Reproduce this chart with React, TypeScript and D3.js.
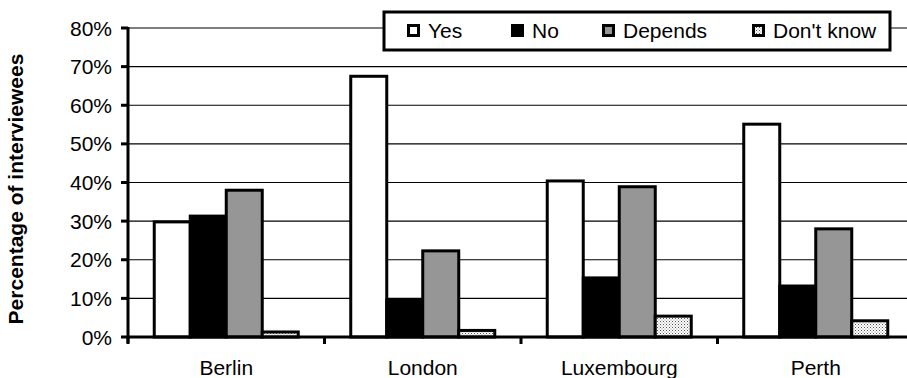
import * as d3 from "d3";
import { useEffect, useRef } from "react";

const cities = ["Berlin", "London", "Luxembourg", "Perth"];
const seriesNames = ["Yes", "No", "Depends", "Don't know"];
const yes = [29.8, 67.5, 40.4, 55.1];
const no = [31.3, 9.5, 15.3, 13.2];
const depends = [38, 22.3, 38.9, 28];
const dontKnow = [1.3, 1.7, 5.4, 4.2];
const yTicks = [0, 10, 20, 30, 40, 50, 60, 70, 80];

const fills = ["#ffffff", "#000000", "#969696", "url(#dk)"];
const FONT = "'Liberation Sans', Arial, sans-serif";

function App() {
  const ref = useRef<SVGSVGElement | null>(null);

  useEffect(() => {
    const svg = d3.select(ref.current);
    svg.selectAll("*").remove();

    const W = 907, H = 378;
    const left = 128, top = 28, bottom = 337;
    const right = left + 4 * 196.5;

    // pattern for "Don't know"
    const pat = svg.append("defs").append("pattern")
      .attr("id", "dk").attr("patternUnits", "userSpaceOnUse")
      .attr("width", 3).attr("height", 3);
    pat.append("rect").attr("width", 3).attr("height", 3).attr("fill", "#ffffff");
    pat.append("rect").attr("width", 1).attr("height", 1).attr("fill", "#555");
    pat.append("rect").attr("x", 1.5).attr("y", 1.5).attr("width", 1).attr("height", 1).attr("fill", "#888");

    const y = d3.scaleLinear().domain([0, 80]).range([bottom, top]);
    const x0 = d3.scaleBand<string>().domain(cities).range([left, right]).padding(0);
    const x1 = d3.scaleBand<string>().domain(seriesNames)
      .range([0, x0.bandwidth()]).paddingInner(0).paddingOuter(0.729);

    // gridlines
    svg.append("g").selectAll("line").data(yTicks.slice(1)).join("line")
      .attr("x1", left).attr("x2", W)
      .attr("y1", d => y(d)).attr("y2", d => y(d))
      .attr("stroke", "#000").attr("stroke-width", 1.2);

    // bars
    const values = [yes, no, depends, dontKnow];
    const rows = cities.flatMap((c, i) => seriesNames.map((s, j) => ({ c, s, v: values[j][i], f: fills[j] })));
    svg.append("g").selectAll("rect").data(rows).join("rect")
      .attr("x", d => (x0(d.c) as number) + (x1(d.s) as number))
      .attr("y", d => y(d.v))
      .attr("width", x1.bandwidth())
      .attr("height", d => bottom - y(d.v))
      .attr("fill", d => d.f)
      .attr("stroke", "#000").attr("stroke-width", 3);

    // y axis
    const ya = svg.append("g");
    ya.append("line").attr("x1", left).attr("x2", left).attr("y1", top - 1).attr("y2", bottom + 6)
      .attr("stroke", "#000").attr("stroke-width", 3);
    ya.selectAll("line.t").data(yTicks).join("line").attr("class", "t")
      .attr("x1", left - 7).attr("x2", left)
      .attr("y1", d => y(d)).attr("y2", d => y(d))
      .attr("stroke", "#000").attr("stroke-width", 3);
    ya.selectAll("text").data(yTicks).join("text")
      .attr("x", 112).attr("y", d => y(d)).attr("dy", "0.36em")
      .attr("text-anchor", "end").attr("font-family", FONT).attr("font-size", 21)
      .text(d => d + "%");

    // x axis
    const xa = svg.append("g");
    xa.append("line").attr("x1", left).attr("x2", W).attr("y1", bottom).attr("y2", bottom)
      .attr("stroke", "#000").attr("stroke-width", 3);
    xa.selectAll("line.t").data(cities).join("line").attr("class", "t")
      .attr("x1", d => x0(d) as number).attr("x2", d => x0(d) as number)
      .attr("y1", bottom).attr("y2", bottom + 7)
      .attr("stroke", "#000").attr("stroke-width", 3);
    xa.selectAll("text").data(cities).join("text")
      .attr("x", d => (x0(d) as number) + x0.bandwidth() / 2).attr("y", 375)
      .attr("text-anchor", "middle").attr("font-family", FONT).attr("font-size", 21)
      .text(d => d);

    // y label
    svg.append("text")
      .attr("transform", "translate(23,189) rotate(-90)")
      .attr("text-anchor", "middle").attr("font-family", FONT)
      .attr("font-size", 21).attr("font-weight", "bold")
      .text("Percentage of interviewees");

    // legend
    const lg = svg.append("g");
    lg.append("rect").attr("x", 384).attr("y", 12).attr("width", 506).attr("height", 38)
      .attr("fill", "#fff").attr("stroke", "#000").attr("stroke-width", 3);
    const iconX = [407, 511, 602, 752];
    seriesNames.forEach((s, j) => {
      lg.append("rect").attr("x", iconX[j] + 1.5).attr("y", 25.5).attr("width", 10).attr("height", 10)
        .attr("fill", fills[j]).attr("stroke", "#000").attr("stroke-width", 3);
      lg.append("text").attr("x", iconX[j] + 21).attr("y", 30.5).attr("dy", "0.36em")
        .attr("font-family", FONT).attr("font-size", 21).text(s);
    });
  }, []);

  return (
    <svg ref={ref} width={907} height={378}
      style={{ position: "absolute", left: 0, top: 0, background: "#fff" }} />
  );
}

export default App;
